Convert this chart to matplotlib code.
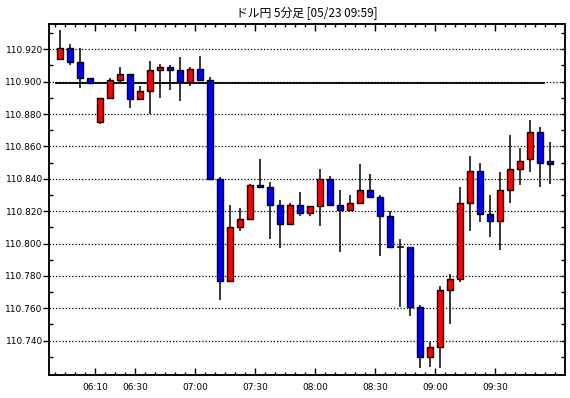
import matplotlib
matplotlib.use("Agg")
import matplotlib.pyplot as plt
from matplotlib.ticker import FixedLocator, FuncFormatter

# 5-minute bars, 05:50 .. 09:55
opens = [110.914, 110.921, 110.912, 110.902, 110.875, 110.890, 110.901, 110.905, 110.889, 110.894,
         110.907, 110.909, 110.907, 110.900, 110.908, 110.901, 110.840, 110.777, 110.810, 110.815,
         110.836, 110.835, 110.824, 110.812, 110.824, 110.819, 110.823, 110.840, 110.824, 110.821,
         110.825, 110.833, 110.829, 110.817, 110.798, 110.798, 110.761, 110.730, 110.736, 110.771,
         110.778, 110.825, 110.845, 110.818, 110.814, 110.833, 110.846, 110.852, 110.869, 110.851]
highs = [110.932, 110.923, 110.921, 110.902, 110.890, 110.902, 110.909, 110.905, 110.897, 110.913,
         110.911, 110.910, 110.915, 110.909, 110.916, 110.903, 110.841, 110.824, 110.822, 110.837,
         110.852, 110.838, 110.827, 110.825, 110.832, 110.823, 110.846, 110.842, 110.833, 110.830,
         110.849, 110.843, 110.830, 110.820, 110.803, 110.798, 110.762, 110.739, 110.774, 110.781,
         110.835, 110.854, 110.850, 110.830, 110.844, 110.867, 110.859, 110.876, 110.872, 110.863]
lows = [110.914, 110.910, 110.896, 110.899, 110.874, 110.890, 110.900, 110.884, 110.889, 110.880,
        110.890, 110.895, 110.888, 110.897, 110.901, 110.840, 110.765, 110.777, 110.808, 110.815,
        110.834, 110.803, 110.797, 110.812, 110.817, 110.817, 110.811, 110.823, 110.795, 110.821,
        110.825, 110.828, 110.792, 110.797, 110.761, 110.755, 110.723, 110.724, 110.723, 110.750,
        110.776, 110.808, 110.813, 110.804, 110.796, 110.825, 110.836, 110.844, 110.835, 110.837]
closes = [110.921, 110.912, 110.902, 110.899, 110.890, 110.901, 110.905, 110.889, 110.894, 110.907,
          110.909, 110.907, 110.900, 110.908, 110.901, 110.840, 110.777, 110.810, 110.815, 110.836,
          110.835, 110.824, 110.812, 110.824, 110.819, 110.823, 110.840, 110.824, 110.821, 110.825,
          110.833, 110.829, 110.817, 110.798, 110.798, 110.761, 110.730, 110.736, 110.771, 110.778,
          110.825, 110.845, 110.818, 110.814, 110.833, 110.846, 110.851, 110.869, 110.850, 110.849]

ref_level = 110.899
start_min = 5 * 60 + 50
bar_times = ["%02d:%02d" % ((start_min + 5 * i) // 60, (start_min + 5 * i) % 60) for i in range(len(opens))]
tick_labels = ["06:10", "06:30", "07:00", "07:30", "08:00", "08:30", "09:00", "09:30"]
y_labels = [110.740, 110.760, 110.780, 110.800, 110.820, 110.840, 110.860, 110.880, 110.900, 110.920]
title = "ドル円 5分足 [05/23 09:59]"

fig = plt.figure(figsize=(5.7, 3.98), dpi=100)
ax = fig.add_axes([49 / 570, 23 / 398, 516 / 570, 351 / 398])

n = len(opens)
for i in range(n):
    o, h, l, c = opens[i], highs[i], lows[i], closes[i]
    ax.vlines(i, l, h, color="black", lw=1.1, zorder=2)
    if c > o:
        ax.bar(i, c - o, bottom=o, width=0.62, color="#ff0000", edgecolor="black", lw=1.0, zorder=3)
    elif c < o:
        ax.bar(i, o - c, bottom=c, width=0.62, color="#0000ff", edgecolor="black", lw=1.0, zorder=3)
    else:
        ax.hlines(o, i - 0.35, i + 0.35, color="black", lw=1.1, zorder=3)

ax.hlines(ref_level, -0.5, n - 1.5, color="black", lw=1.3, zorder=1)

for v in y_labels:
    ax.axhline(v, color="black", lw=0.9, linestyle=(0, (1, 1.6)), zorder=1)

ax.set_xlim(-1.13, n + 0.47)
ax.set_ylim(110.7188, 110.9356)

# x ticks sit on bar boundaries
major_x = [bar_times.index(t) - 0.5 for t in tick_labels]
minor_x = [i - 0.5 for i in range(n + 1)]
ax.xaxis.set_major_locator(FixedLocator(major_x))
ax.xaxis.set_minor_locator(FixedLocator(minor_x))
ax.set_xticklabels(tick_labels)
ax.tick_params(axis="x", which="major", direction="in", length=5, width=1, top=True, pad=6, labelsize=6.5)
ax.tick_params(axis="x", which="minor", direction="in", length=2.5, width=1, top=True)

ax.yaxis.set_major_locator(FixedLocator(y_labels))
ax.yaxis.set_minor_locator(FixedLocator([v + 0.01 for v in [110.720] + y_labels]))
ax.yaxis.set_major_formatter(FuncFormatter(lambda v, p: "%.3f" % v))
ax.tick_params(axis="y", which="major", direction="out", length=4, width=1, right=False, pad=0.5, labelsize=6.5)
ax.tick_params(axis="y", which="minor", direction="in", length=3, width=1, right=False)

ax2 = ax.twinx()
ax2.set_ylim(ax.get_ylim())
ax2.yaxis.set_major_locator(FixedLocator(sorted(y_labels + [v + 0.01 for v in [110.720] + y_labels])))
ax2.tick_params(axis="y", direction="in", length=3, width=1, labelright=False)

for a in (ax, ax2):
    for s in a.spines.values():
        s.set_linewidth(1.1)

fig.text(307 / 570, 1 - 13 / 398, title, ha="center", va="center", fontsize=8.5,
         family=["Noto Sans CJK JP", "DejaVu Sans"])

fig.savefig("out.png", dpi=100, facecolor="white")
